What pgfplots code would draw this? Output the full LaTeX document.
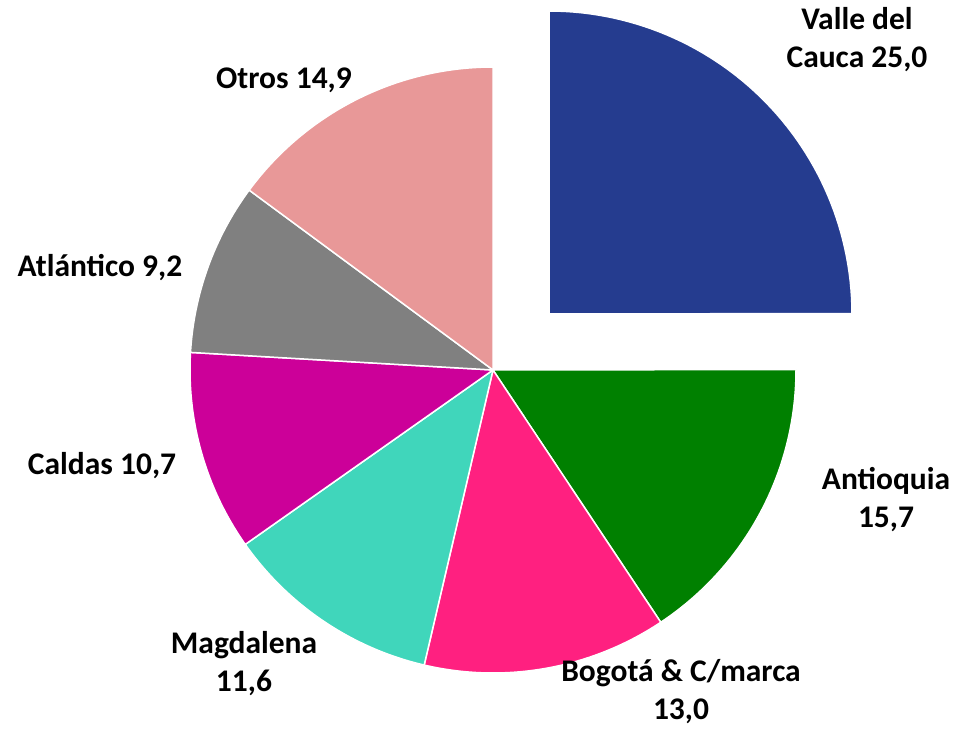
\documentclass[border=0pt]{standalone}
\usepackage{pgfplots}
\pgfplotsset{compat=1.18}
\usepackage{fontspec}
\setmainfont{Carlito}
\definecolor{cValle}{RGB}{37,60,143}
\definecolor{cAnt}{RGB}{0,128,0}
\definecolor{cBog}{RGB}{255,32,128}
\definecolor{cMag}{RGB}{64,214,187}
\definecolor{cCal}{RGB}{204,0,153}
\definecolor{cAtl}{RGB}{128,128,128}
\definecolor{cOtr}{RGB}{232,152,152}
% values (percent)
\def\vValle{25.0}
\def\vAnt{15.7}
\def\vBog{13.0}
\def\vMag{11.6}
\def\vCal{10.7}
\def\vAtl{9.2}
\def\vOtr{14.9}
\pgfmathsetmacro\tot{\vValle+\vAnt+\vBog+\vMag+\vCal+\vAtl+\vOtr}
\pgfmathsetmacro\aA{90}
\pgfmathsetmacro\aB{\aA-\vValle/\tot*360}
\pgfmathsetmacro\aC{\aB-\vAnt/\tot*360}
\pgfmathsetmacro\aD{\aC-\vBog/\tot*360}
\pgfmathsetmacro\aE{\aD-\vMag/\tot*360}
\pgfmathsetmacro\aF{\aE-\vCal/\tot*360}
\pgfmathsetmacro\aG{\aF-\vAtl/\tot*360}
\pgfmathsetmacro\aH{\aG-\vOtr/\tot*360}
\def\R{303}
\begin{document}
\begin{tikzpicture}
\begin{axis}[
  x=1pt, y=1pt,
  xmin=-493, xmax=464, ymin=-358, ymax=370,
  hide axis, clip=false,
  every axis plot/.append style={draw=white, line width=1.5pt, line join=round, samples=60, data cs=polar},
]
\addplot[fill=cValle, xshift=56pt, yshift=56pt, domain=\aB:\aA] ({x},{\R}) -- (axis cs:0,0) -- cycle;
\addplot[fill=cAnt, domain=\aC:\aB] ({x},{\R}) -- (axis cs:0,0) -- cycle;
\addplot[fill=cBog, domain=\aD:\aC] ({x},{\R}) -- (axis cs:0,0) -- cycle;
\addplot[fill=cMag, domain=\aE:\aD] ({x},{\R}) -- (axis cs:0,0) -- cycle;
\addplot[fill=cCal, domain=\aF:\aE] ({x},{\R}) -- (axis cs:0,0) -- cycle;
\addplot[fill=cAtl, domain=\aG:\aF] ({x},{\R}) -- (axis cs:0,0) -- cycle;
\addplot[fill=cOtr, domain=\aH:\aG] ({x},{\R}) -- (axis cs:0,0) -- cycle;
\begin{scope}[every node/.style={font=\fontsize{31.5}{38}\selectfont\bfseries, align=center}]
\node at (axis cs:{364},{330}) {Valle del\\Cauca 25,0};
\node at (axis cs:{393},{-130}) {Antioquia\\15,7};
\node at (axis cs:{188},{-322}) {Bogotá \& C/marca\\13,0};
\node at (axis cs:{-249},{-294}) {Magdalena\\11,6};
\node at (axis cs:{-391},{-96}) {Caldas 10,7};
\node at (axis cs:{-393},{102}) {Atlántico 9,2};
\node at (axis cs:{-209},{290}) {Otros 14,9};
\end{scope}
\coordinate (bbl) at (axis cs:-493,-358);
\coordinate (btr) at (axis cs:464,370);
\end{axis}
\pgfresetboundingbox
\path[use as bounding box] (bbl) rectangle (btr);
\end{tikzpicture}
\end{document}
